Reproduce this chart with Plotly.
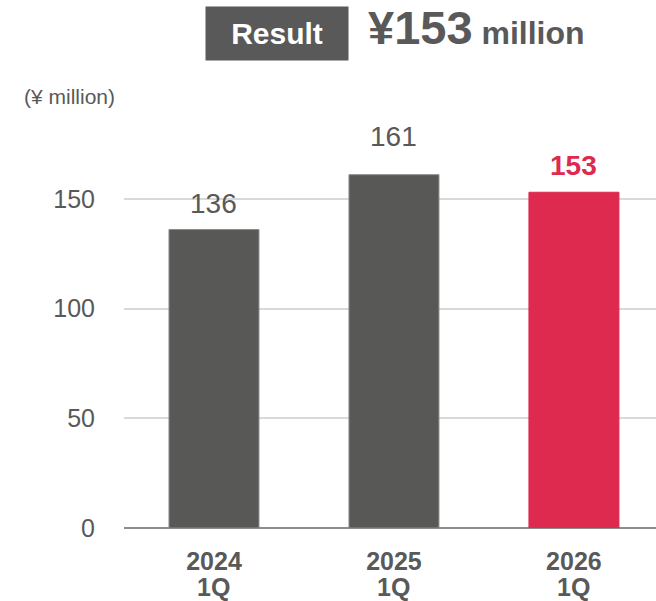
import plotly.graph_objects as go

# Quarterly result, ¥ million
years = ["2024", "2025", "2026"]
quarter = "1Q"
values = [136, 161, 153]
bar_colors = ["#585856", "#585856", "#DE2A4E"]
line_colors = ["#8a8a8a", "#8a8a8a", "#DE2A4E"]
label_bold = [False, False, True]
label_colors = ["#595959", "#595959", "#DE2A4E"]
y_ticks = [0, 50, 100, 150]

FONT = "Liberation Sans, Arial, sans-serif"
xpos = list(range(len(years)))
label_gap = [9, 21, 9]  # pixel offset of each value label above its bar

fig = go.Figure(
    go.Bar(
        x=xpos,
        y=values,
        width=0.5,
        marker=dict(color=bar_colors, line=dict(color=line_colors, width=1)),
        hoverinfo="skip",
    )
)

# value labels above each bar
value_labels = [
    dict(
        x=xi, y=v, xref="x", yref="y",
        text=f"<b>{v}</b>" if b else str(v),
        showarrow=False, xanchor="center", yanchor="bottom", yshift=g,
        font=dict(family=FONT, size=28, color=c),
    )
    for xi, v, b, c, g in zip(xpos, values, label_bold, label_colors, label_gap)
]

# second line of each category label (quarter)
quarter_labels = [
    dict(
        x=xi, y=0, xref="x", yref="y",
        text=f"<b>{quarter}</b>",
        showarrow=False, xanchor="center", yanchor="middle", yshift=-59,
        font=dict(family=FONT, size=25, color="#595959"),
    )
    for xi in xpos
]

fig.update_layout(
    width=656,
    height=601,
    margin=dict(l=124, r=0, t=133, b=73, autoexpand=False),
    paper_bgcolor="white",
    plot_bgcolor="white",
    showlegend=False,
    bargap=0.5,
    xaxis=dict(
        range=[-0.5, 2.456],
        tickmode="array",
        tickvals=xpos,
        ticktext=[f"<b>{y}</b>" for y in years],
        tickfont=dict(family=FONT, size=25, color="#595959"),
        showgrid=False,
        showline=False,
        zeroline=False,
        ticks="",
        ticklabelstandoff=16,
        automargin=False,
    ),
    yaxis=dict(
        range=[0, 180],
        tickmode="array",
        tickvals=y_ticks,
        tickfont=dict(family=FONT, size=25, color="#595959"),
        showgrid=True,
        gridcolor="#d9d9d9",
        gridwidth=2,
        zeroline=True,
        zerolinecolor="#8c8c8c",
        zerolinewidth=2,
        showline=False,
        ticks="",
        ticklabelstandoff=28,
        automargin=False,
    ),
    annotations=value_labels + quarter_labels + [
        dict(
            text="(¥ million)",
            xref="paper", yref="paper",
            x=-0.192, y=1.093, xanchor="left", yanchor="middle",
            showarrow=False,
            font=dict(family=FONT, size=21, color="#595959"),
        ),
        dict(
            text="<b>Result</b>",
            xref="paper", yref="paper",
            x=0.152, y=1.253, xanchor="left", yanchor="middle",
            showarrow=False,
            bgcolor="#595959",
            width=140, height=51,
            font=dict(family=FONT, size=30, color="white"),
        ),
        dict(
            text="<b><span style='font-size:47px'>¥153</span> million</b>",
            xref="paper", yref="paper",
            x=0.455, y=1.268, xanchor="left", yanchor="middle",
            showarrow=False,
            font=dict(family=FONT, size=32, color="#595959"),
        ),
    ],
)

fig.write_html("out.html")
